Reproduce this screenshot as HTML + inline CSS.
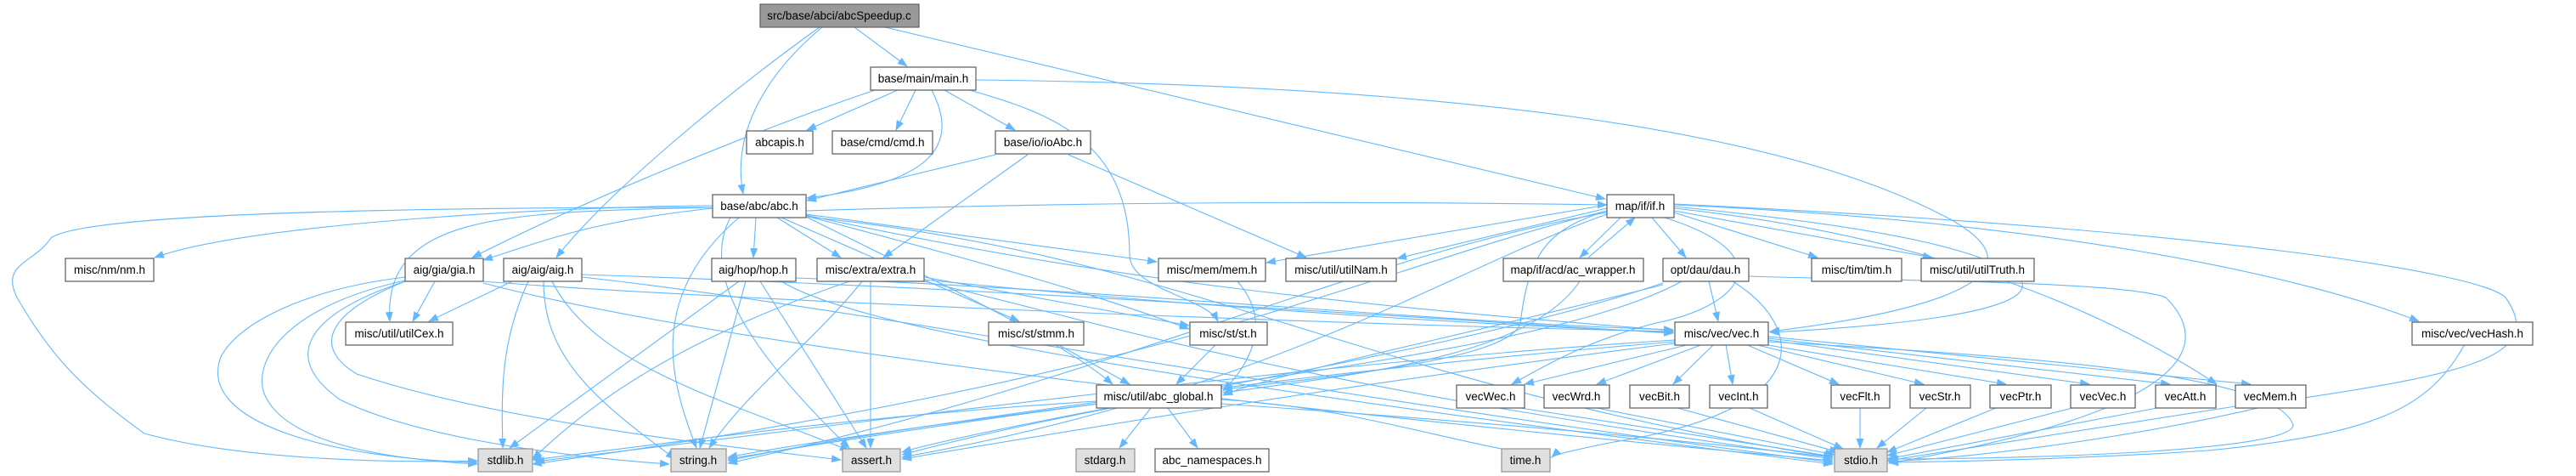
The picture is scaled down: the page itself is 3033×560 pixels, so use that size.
<!DOCTYPE html>
<html><head><meta charset="utf-8"><style>
html,body{margin:0;padding:0;background:#fff;width:3033px;height:560px;overflow:hidden}
svg text{font-family:"Liberation Sans",Arial,sans-serif;font-size:13.5px;fill:#000;text-anchor:middle}
.n{fill:#fff;stroke:#666;stroke-width:1.3}
.g{fill:#e0e0e0;stroke:#999;stroke-width:1.3}
.t{fill:#999;stroke:#666;stroke-width:1.3}
path.e{fill:none;stroke:#63b8ff;stroke-width:1.1;marker-end:url(#a)}
</style></head><body>
<svg width="3033" height="560" viewBox="0 0 3033 560" xmlns="http://www.w3.org/2000/svg">
<defs><marker id="a" markerWidth="12" markerHeight="10" refX="11" refY="4.5" orient="auto" markerUnits="userSpaceOnUse"><path d="M0,0 L12,4.5 L0,9 z" fill="#63b8ff"/></marker></defs>
<g>
<!-- top -->
<path class="e" d="M1006,32 L1068,78"/>
<path class="e" d="M968,32 C910,80 860,150 875,228"/>
<path class="e" d="M965,32 C870,100 720,220 655,303"/>
<path class="e" d="M1042,32 L1890,234"/>
<!-- main -->
<path class="e" d="M1057,106 L950,153"/>
<path class="e" d="M1078,106 L1055,153"/>
<path class="e" d="M1112,106 L1195,153"/>
<path class="e" d="M1097,106 C1130,170 1100,215 950,233"/>
<path class="e" d="M1030,106 C900,150 700,230 556,303"/>
<path class="e" d="M1120,100 C1230,130 1330,160 1330,300 C1330,340 1420,350 1434,378"/>
<path class="e" d="M1149,94 C1700,100 2100,150 2300,260 C2420,330 2250,370 2084,390"/>
<!-- ioAbc -->
<path class="e" d="M1172,182 L950,236"/>
<path class="e" d="M1210,182 L1040,303"/>
<path class="e" d="M1258,182 L1538,303"/>
<!-- abc -->
<path class="e" d="M839,242 C700,242 300,260 182,303"/>
<path class="e" d="M839,245 C700,260 650,280 569,306"/>
<path class="e" d="M839,244 C600,250 450,250 459,378"/>
<path class="e" d="M890,256 L887,303"/>
<path class="e" d="M915,256 L990,303"/>
<path class="e" d="M949,252 L1362,308"/>
<path class="e" d="M949,248 C1200,240 1500,235 1892,241"/>
<path class="e" d="M920,256 L1200,378"/>
<path class="e" d="M949,254 C1200,320 1300,350 1400,387"/>
<path class="e" d="M949,253 C1300,330 1600,360 1970,389"/>
<path class="e" d="M949,255 C1100,330 1250,400 1310,452"/>
<path class="e" d="M839,244 C500,244 100,250 60,280 C40,310 0,310 20,350 C60,420 100,460 170,510 C280,540 450,545 562,542"/>
<path class="e" d="M870,256 C760,350 790,450 820,527"/>
<path class="e" d="M860,256 C820,330 900,430 1000,527"/>
<path class="e" d="M949,255 C1400,300 1600,450 2158,538"/>
<!-- gia -->
<path class="e" d="M512,331 L486,378"/>
<path class="e" d="M477,326 C360,340 280,380 260,420 C230,500 400,540 562,544"/>
<path class="e" d="M477,330 C340,360 300,420 310,460 C330,520 450,540 562,546"/>
<path class="e" d="M477,331 C360,370 330,420 400,470 C500,520 700,540 788,546"/>
<path class="e" d="M477,331 C380,370 370,410 420,440 C600,500 900,530 990,541"/>
<path class="e" d="M569,331 C800,350 1500,380 1970,390"/>
<path class="e" d="M569,333 C900,420 1700,500 2158,542"/>
<!-- aig -->
<path class="e" d="M603,331 L505,378"/>
<path class="e" d="M622,331 C590,400 590,460 592,527"/>
<path class="e" d="M640,331 C640,420 700,470 795,540"/>
<path class="e" d="M650,331 C700,430 850,470 1000,530"/>
<path class="e" d="M685,323 C1200,340 1600,370 1970,392"/>
<path class="e" d="M685,326 C1000,360 1500,460 2158,544"/>
<!-- hop -->
<path class="e" d="M870,331 L600,527"/>
<path class="e" d="M878,331 L824,527"/>
<path class="e" d="M895,331 L1020,527"/>
<path class="e" d="M937,327 C1300,340 1700,380 1970,388"/>
<path class="e" d="M920,331 C1000,380 1300,440 2158,546"/>
<!-- extra -->
<path class="e" d="M1000,331 C800,400 700,470 627,540"/>
<path class="e" d="M1015,331 C960,400 880,460 835,527"/>
<path class="e" d="M1025,331 L1025,527"/>
<path class="e" d="M1088,326 L1400,383"/>
<path class="e" d="M1088,329 C1400,360 1700,380 1970,391"/>
<path class="e" d="M1088,331 C1300,380 1500,450 2158,540"/>
<!-- mem / stmm / st -->
<path class="e" d="M1457,331 C1500,380 1470,430 1440,460"/>
<path class="e" d="M1245,405 L1330,452"/>
<path class="e" d="M1432,405 L1385,452"/>
<!-- abc_global -->
<path class="e" d="M1355,480 L1318,527"/>
<path class="e" d="M1375,480 L1410,527"/>
<path class="e" d="M1291,472 C1000,490 800,520 627,541"/>
<path class="e" d="M1291,475 C1100,500 950,520 857,538"/>
<path class="e" d="M1305,480 C1200,500 1100,520 1062,532"/>
<path class="e" d="M1438,475 C1800,500 2000,520 2158,538"/>
<path class="e" d="M1438,470 C1600,480 1700,520 1826,538"/>
<!-- if -->
<path class="e" d="M1892,241 L1491,309"/>
<path class="e" d="M1892,245 L1645,304"/>
<path class="e" d="M1908,256 L1860,303"/>
<path class="e" d="M1870,303 L1925,256"/>
<path class="e" d="M1945,256 L1985,303"/>
<path class="e" d="M1971,250 L2140,303"/>
<path class="e" d="M1971,248 L2275,303"/>
<path class="e" d="M1971,243 C2250,270 2350,300 2380,330 C2400,370 2200,385 2084,391"/>
<path class="e" d="M1971,241 C2400,260 2700,320 2848,378"/>
<path class="e" d="M1971,245 C2300,280 2500,380 2610,452"/>
<path class="e" d="M1971,240 C2600,270 2920,320 2950,350 C3000,420 2900,440 2700,470 C2500,520 2300,540 2224,543"/>
<path class="e" d="M1960,256 C2100,300 2050,360 1950,380 C1870,400 1820,430 1780,452"/>
<path class="e" d="M1892,248 C1820,270 1800,300 1790,380 C1780,420 1600,440 1440,458"/>
<path class="e" d="M1892,250 C1600,300 1300,450 857,545"/>
<path class="e" d="M1892,248 C1600,320 1400,440 627,546"/>
<path class="e" d="M1892,252 C1700,320 1500,460 1062,538"/>
<path class="e" d="M1860,331 C1800,420 1600,440 1440,462"/>
<!-- dau -->
<path class="e" d="M2012,331 L2023,378"/>
<path class="e" d="M1958,335 C1700,400 1500,440 1440,465"/>
<path class="e" d="M1980,331 C1800,430 1200,470 857,542"/>
<path class="e" d="M1958,333 C1700,420 1300,470 1062,535"/>
<path class="e" d="M2040,331 C2120,380 2150,480 1900,520 C1850,530 1830,535 1827,538"/>
<path class="e" d="M2059,325 C2200,330 2500,330 2550,350 C2600,400 2600,480 2224,545"/>
<!-- vec -->
<path class="e" d="M1990,405 L1795,452"/>
<path class="e" d="M2005,405 L1880,452"/>
<path class="e" d="M2018,405 L1970,452"/>
<path class="e" d="M2032,405 L2040,452"/>
<path class="e" d="M2055,405 L2165,452"/>
<path class="e" d="M2065,405 L2265,452"/>
<path class="e" d="M2075,405 L2362,452"/>
<path class="e" d="M2082,400 L2460,452"/>
<path class="e" d="M2082,398 L2555,452"/>
<path class="e" d="M2082,396 L2650,452"/>
<path class="e" d="M1972,400 C1500,430 1000,500 630,543"/>
<path class="e" d="M1972,402 C1500,440 1100,500 857,540"/>
<path class="e" d="M1972,404 C1600,450 1300,500 1062,540"/>
<path class="e" d="M2082,402 C2400,420 2680,440 2700,500 C2700,530 2400,540 2224,540"/>
<!-- vecX -> stdio -->
<path class="e" d="M1790,480 L2158,537"/>
<path class="e" d="M1880,480 L2160,535"/>
<path class="e" d="M1975,480 L2165,532"/>
<path class="e" d="M2060,480 L2170,528"/>
<path class="e" d="M2190,480 L2190,527"/>
<path class="e" d="M2268,480 L2210,527"/>
<path class="e" d="M2350,480 L2222,532"/>
<path class="e" d="M2440,480 L2222,536"/>
<path class="e" d="M2540,480 L2222,540"/>
<path class="e" d="M2632,478 L2222,542"/>
<path class="e" d="M2902,405 C2860,480 2800,510 2600,530 C2450,540 2300,543 2224,544"/>
</g>
<g>
<rect class="t" x="895" y="5" width="187" height="27"/><text x="988" y="23">src/base/abci/abcSpeedup.c</text>
<rect class="n" x="1025" y="79" width="124" height="27"/><text x="1087" y="97">base/main/main.h</text>
<rect class="n" x="879" y="154" width="78" height="27"/><text x="918" y="172">abcapis.h</text>
<rect class="n" x="980" y="154" width="118" height="27"/><text x="1039" y="172">base/cmd/cmd.h</text>
<rect class="n" x="1172" y="154" width="112" height="27"/><text x="1228" y="172">base/io/ioAbc.h</text>
<rect class="n" x="839" y="229" width="110" height="27"/><text x="894" y="247">base/abc/abc.h</text>
<rect class="n" x="1892" y="229" width="79" height="27"/><text x="1931" y="247">map/if/if.h</text>
<rect class="n" x="77" y="304" width="104" height="27"/><text x="129" y="322">misc/nm/nm.h</text>
<rect class="n" x="477" y="304" width="92" height="27"/><text x="523" y="322">aig/gia/gia.h</text>
<rect class="n" x="593" y="304" width="92" height="27"/><text x="639" y="322">aig/aig/aig.h</text>
<rect class="n" x="838" y="304" width="99" height="27"/><text x="887" y="322">aig/hop/hop.h</text>
<rect class="n" x="962" y="304" width="126" height="27"/><text x="1025" y="322">misc/extra/extra.h</text>
<rect class="n" x="1364" y="304" width="126" height="27"/><text x="1427" y="322">misc/mem/mem.h</text>
<rect class="n" x="1514" y="304" width="130" height="27"/><text x="1579" y="322">misc/util/utilNam.h</text>
<rect class="n" x="1770" y="304" width="165" height="27"/><text x="1852" y="322">map/if/acd/ac_wrapper.h</text>
<rect class="n" x="1958" y="304" width="101" height="27"/><text x="2008" y="322">opt/dau/dau.h</text>
<rect class="n" x="2133" y="304" width="106" height="27"/><text x="2186" y="322">misc/tim/tim.h</text>
<rect class="n" x="2262" y="304" width="133" height="27"/><text x="2328" y="322">misc/util/utilTruth.h</text>
<rect class="n" x="407" y="379" width="126" height="27"/><text x="470" y="397">misc/util/utilCex.h</text>
<rect class="n" x="1164" y="379" width="112" height="27"/><text x="1220" y="397">misc/st/stmm.h</text>
<rect class="n" x="1401" y="379" width="91" height="27"/><text x="1446" y="397">misc/st/st.h</text>
<rect class="n" x="1972" y="379" width="110" height="27"/><text x="2027" y="397">misc/vec/vec.h</text>
<rect class="n" x="2840" y="379" width="142" height="27"/><text x="2911" y="397">misc/vec/vecHash.h</text>
<rect class="n" x="1291" y="453" width="147" height="27"/><text x="1364" y="471">misc/util/abc_global.h</text>
<rect class="n" x="1715" y="453" width="80" height="27"/><text x="1755" y="471">vecWec.h</text>
<rect class="n" x="1818" y="453" width="77" height="27"/><text x="1856" y="471">vecWrd.h</text>
<rect class="n" x="1919" y="453" width="70" height="27"/><text x="1954" y="471">vecBit.h</text>
<rect class="n" x="2013" y="453" width="68" height="27"/><text x="2047" y="471">vecInt.h</text>
<rect class="n" x="2156" y="453" width="69" height="27"/><text x="2190" y="471">vecFlt.h</text>
<rect class="n" x="2249" y="453" width="71" height="27"/><text x="2284" y="471">vecStr.h</text>
<rect class="n" x="2343" y="453" width="72" height="27"/><text x="2379" y="471">vecPtr.h</text>
<rect class="n" x="2438" y="453" width="76" height="27"/><text x="2476" y="471">vecVec.h</text>
<rect class="n" x="2538" y="453" width="71" height="27"/><text x="2573" y="471">vecAtt.h</text>
<rect class="n" x="2632" y="453" width="83" height="27"/><text x="2673" y="471">vecMem.h</text>
<rect class="g" x="563" y="528" width="64" height="27"/><text x="595" y="546">stdlib.h</text>
<rect class="g" x="790" y="528" width="65" height="27"/><text x="822" y="546">string.h</text>
<rect class="g" x="992" y="528" width="68" height="27"/><text x="1026" y="546">assert.h</text>
<rect class="g" x="1267" y="528" width="69" height="27"/><text x="1301" y="546">stdarg.h</text>
<rect class="n" x="1360" y="528" width="134" height="27"/><text x="1427" y="546">abc_namespaces.h</text>
<rect class="g" x="1768" y="528" width="57" height="27"/><text x="1796" y="546">time.h</text>
<rect class="g" x="2160" y="528" width="62" height="27"/><text x="2191" y="546">stdio.h</text>
</g>
</svg>
</body></html>
